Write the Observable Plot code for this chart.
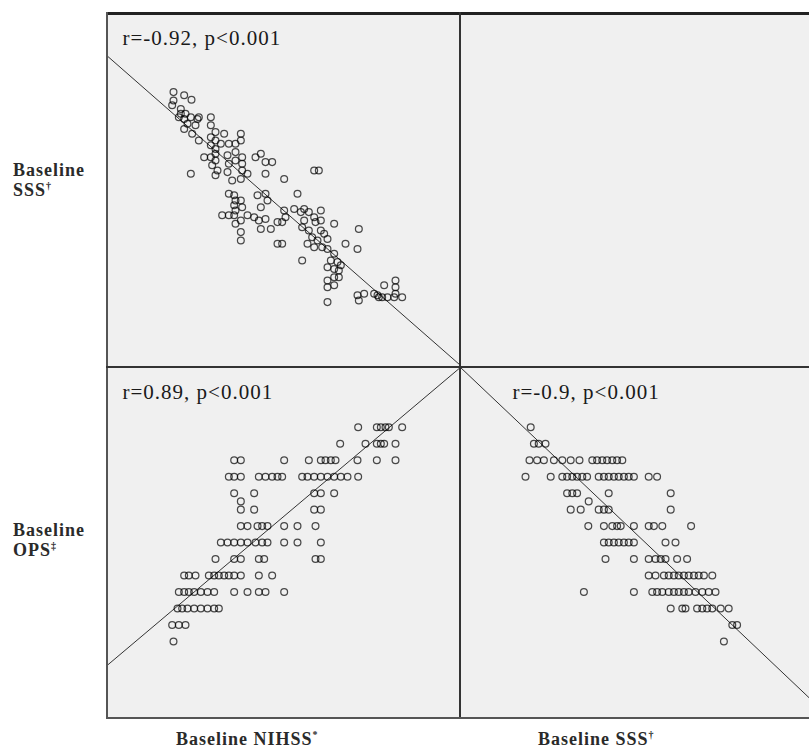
<!DOCTYPE html>
<html><head><meta charset="utf-8">
<script src="https://cdn.jsdelivr.net/npm/d3@7"></script>
<script src="https://cdn.jsdelivr.net/npm/@observablehq/plot@0.6"></script>
<style>
html,body{margin:0;padding:0;background:#fff;}
body{width:809px;height:749px;overflow:hidden;position:relative;font-family:"Liberation Serif","Times New Roman",serif;}
.panel{position:absolute;background:#f0f0f0;}
.panel svg{display:block;}
.panel svg text{letter-spacing:1px;}
.rule{position:absolute;background:#333;}
#labels{position:absolute;left:0;top:0;pointer-events:none;}
#labels text{font-family:"Liberation Serif",serif;font-size:18px;font-weight:bold;letter-spacing:1px;fill:#2a2a2a;}
</style></head><body>
<script>
// ---- scales (hidden axes) ----
const nihssDomain = [-6.7, 46.25];
const sssDomain = [-11.75, 76.75];
const opsDomain = [-0.27, 8.25];

// ---- top-left: Baseline NIHSS (x) vs Baseline SSS (y) ----
const nihssSss = [
  [3.2,57.1],[4.8,56.3],[5.9,55.2],[3.2,55.0],[3.0,53.8],[4.3,52.9],[5.0,51.7],[4.3,51.7],[4.0,50.8],[4.8,50.4],
  [5.8,50.8],[7.0,50.8],[6.8,50.4],[5.3,49.2],[6.5,48.8],[4.8,47.9],[6.0,46.7],[7.0,45.0],[8.8,50.8],[8.8,48.8],
  [9.5,47.1],[8.8,45.8],[9.5,45.0],[8.8,43.8],[9.5,42.9],[10.3,44.2],[9.5,41.7],[8.8,40.8],[7.8,40.8],[9.5,40.0],
  [9.0,38.8],[9.8,37.5],[9.5,36.3],[5.8,36.7],[10.8,46.7],[11.5,44.2],[11.3,41.3],[11.5,39.2],[11.3,37.1],[12.0,35.0],
  [12.5,44.2],[13.3,46.7],[13.3,45.0],[12.5,42.1],[13.5,40.8],[12.5,40.0],[13.5,39.2],[13.5,37.5],[13.3,35.4],[14.3,36.7],
  [15.5,40.8],[16.3,41.7],[17.0,39.6],[18.0,39.6],[17.0,36.7],[19.8,35.4],[24.3,37.5],[25.0,37.5],
  [11.5,31.7],[12.3,31.3],[12.5,30.0],[12.3,28.8],[12.5,27.5],[12.3,26.3],[11.5,26.3],[10.5,26.3],[13.3,30.0],[13.5,28.3],
  [14.3,26.3],[13.3,25.0],[12.5,24.2],[13.3,22.1],[13.3,20.0],[15.8,31.3],[17.0,31.7],[17.3,30.0],[16.3,28.3],[15.3,25.8],
  [16.0,25.0],[17.0,25.4],[17.8,22.9],[16.3,22.9],[18.8,24.6],[19.5,24.6],[19.8,27.5],[20.0,25.8],[18.8,19.2],[19.5,19.2],
  [21.8,31.7],[21.3,27.9],[22.3,27.1],[22.8,27.9],[23.5,27.1],[24.3,25.8],[25.3,27.5],[25.3,25.0],[24.5,24.6],[22.8,25.0],
  [22.5,23.3],[23.5,22.5],[24.0,20.8],[25.3,22.5],[24.8,20.0],[25.8,21.7],[26.3,20.4],[27.3,24.2],[23.3,19.2],[24.3,18.3],
  [25.5,18.3],[26.3,17.9],[27.3,16.7],[26.8,15.0],[27.8,14.6],[28.3,13.8],[26.3,13.3],[27.3,12.9],[28.0,12.5],[26.3,10.0],
  [27.3,10.8],[28.0,10.8],[26.3,8.3],[27.3,8.8],[22.5,15.0],[26.3,4.6],[29.0,19.2],[30.8,17.9],[31.0,22.9],
  [30.8,6.3],[31.0,5.0],[31.8,6.7],[33.3,6.7],[33.8,6.3],[34.0,5.8],[34.8,8.8],[34.5,5.8],[35.3,5.8],[36.5,10.0],
  [36.5,8.3],[36.5,6.7],[36.3,5.8],[37.5,5.8]
];

// ---- OPS levels (rows) shared by the two bottom panels ----
const opsLevels = [6.8, 6.4, 6.0, 5.6, 5.2, 5.0, 4.8, 4.4, 4.0, 3.6, 3.2, 2.8, 2.4, 2.0, 1.6];

// bottom-left: Baseline NIHSS values at each OPS level
const nihssAtOps = [
  [30.9,33.7,34.3,35.0,35.5,37.5],
  [28.2,32.0,33.7,34.3,34.8,36.5],
  [12.3,13.3,19.8,23.5,25.3,26.0,26.8,27.5,30.8,33.7,36.5],
  [11.5,12.3,13.3,16.0,17.0,18.0,18.8,19.5,22.5,23.3,24.3,25.3,26.3,27.3,28.3,29.3,30.9],
  [12.3,15.3,24.3,25.3,27.3],
  [13.3],
  [13.3,15.3,24.3,25.3],
  [13.3,14.3,15.8,16.5,17.3,19.8,21.8,24.5],
  [10.3,11.3,12.3,13.3,14.3,15.5,16.5,17.3,19.8,21.8,25.3],
  [9.5,12.3,13.3,16.0,16.8,24.5,25.3],
  [4.8,5.5,6.5,8.5,9.3,10.0,10.8,11.5,12.3,13.3,16.0,18.0],
  [4.0,4.8,5.5,6.3,7.3,8.3,9.3,12.3,14.3,16.0,17.0,19.8],
  [3.8,4.5,5.3,6.3,7.3,8.3,9.3,10.0],
  [3.0,4.0,5.0],
  [3.2]
];

// bottom-right: Baseline SSS values at each OPS level
const sssAtOps = [
  [5.8],
  [6.6,7.8,9.5],
  [5.5,7.4,9.1,11.6,13.7,15.8,18.0,21.2,22.4,23.7,24.9,26.2,27.4,28.7],
  [4.5,10.8,13.7,14.9,16.2,17.4,18.7,19.9,22.8,24.1,25.3,26.6,27.8,29.1,30.3,31.6,35.3,37.4],
  [14.9,16.2,17.4,25.3,40.8],
  [20.3],
  [15.8,18.3,22.8,24.1,25.3,40.8],
  [20.2,24.1,26.2,27.4,28.3,31.6,35.3,36.6,38.7,45.9],
  [24.1,25.3,26.6,27.8,29.1,30.3,31.6,39.5,42.0],
  [24.5,31.6,35.3,37.0,38.3,39.5,42.4,44.9],
  [35.3,37.0,39.1,40.3,41.6,42.8,44.1,45.3,46.6,47.8,49.1,51.2],
  [19.1,31.6,36.2,37.4,38.7,40.3,41.6,42.8,44.1,45.3,47.0,48.7,50.3,52.0],
  [40.8,43.7,44.5,47.4,48.7,49.9,51.2,53.3,55.3],
  [56.2,57.4],
  [54.1]
];

// fitted lines (intercept, slope)
const fitNihssSss = [56.3, -1.46];
const fitNihssOps = [1.94, 0.1365];
const fitSssOps = [7.17, -0.092];

// correlation annotations
const corrLabels = ["r=-0.92, p<0.001", "r=0.89, p<0.001", "r=-0.9, p<0.001"];
// axis labels
const rowLabels = [["Baseline", "SSS", "\u2020"], ["Baseline", "OPS", "\u2021"]];
const colLabels = [["Baseline NIHSS", "*"], ["Baseline SSS", "\u2020"]];

const toPairs = (levels, rows) => rows.flatMap((vals, i) => vals.map(v => [v, levels[i]]));

function panel({w, h, xDomain, yDomain, pts, fit, label, labelDx}) {
  const fitPts = xDomain.map(x => ({x, y: fit[0] + fit[1] * x}));
  return Plot.plot({
    width: w, height: h, margin: 0,
    x: {domain: xDomain, axis: null},
    y: {domain: yDomain, axis: null},
    style: {background: "transparent", fontFamily: "Liberation Serif, serif"},
    marks: [
      Plot.line(fitPts, {x: "x", y: "y", stroke: "#333", strokeWidth: 1, clip: true}),
      Plot.dot(pts, {x: d => d[0], y: d => d[1], r: 3.4, fill: "none", stroke: "#000", strokeOpacity: 0.7, strokeWidth: 1.25}),
      Plot.text([label], {text: d => d, frameAnchor: "top-left", dx: labelDx, dy: 17, textAnchor: "start", lineAnchor: "top", fontSize: 21, fill: "#1a1a1a"})
    ]
  });
}

function place(el, left, top, w, h) {
  const d = document.createElement("div");
  d.className = "panel";
  Object.assign(d.style, {left: left + "px", top: top + "px", width: w + "px", height: h + "px"});
  if (el) d.appendChild(el);
  document.body.appendChild(d);
}

place(panel({w: 353, h: 354, xDomain: nihssDomain, yDomain: sssDomain, pts: nihssSss, fit: fitNihssSss, label: corrLabels[0], labelDx: 15}), 107, 13, 353, 354);
place(null, 460, 13, 354, 354);
place(panel({w: 353, h: 351, xDomain: nihssDomain, yDomain: opsDomain, pts: toPairs(opsLevels, nihssAtOps), fit: fitNihssOps, label: corrLabels[1], labelDx: 15}), 107, 367, 353, 351);
place(panel({w: 354, h: 351, xDomain: sssDomain, yDomain: opsDomain, pts: toPairs(opsLevels, sssAtOps), fit: fitSssOps, label: corrLabels[2], labelDx: 52}), 460, 367, 354, 351);

// frame rules
function rule(l, t, w, h, c) {
  const d = document.createElement("div");
  d.className = "rule";
  Object.assign(d.style, {left: l + "px", top: t + "px", width: w + "px", height: h + "px", background: c || "#333"});
  document.body.appendChild(d);
}
rule(106, 12, 703, 3, "#222");
rule(106, 12, 2, 707, "#555");
rule(459, 12, 2, 707, "#333");
rule(106, 366, 703, 2, "#333");
rule(106, 717, 703, 2, "#555");

// text labels
const ns = "http://www.w3.org/2000/svg";
const svg = document.createElementNS(ns, "svg");
svg.setAttribute("id", "labels");
svg.setAttribute("width", 809); svg.setAttribute("height", 749);
function txt(x, y, parts) {
  const t = document.createElementNS(ns, "text");
  t.setAttribute("x", x); t.setAttribute("y", y);
  parts.forEach(([s, sup]) => {
    const sp = document.createElementNS(ns, "tspan");
    sp.textContent = s;
    if (sup) { sp.setAttribute("font-size", "10px"); sp.setAttribute("dy", "-7"); }
    t.appendChild(sp);
  });
  svg.appendChild(t);
}
txt(13, 176, [[rowLabels[0][0]]]);
txt(13, 196, [[rowLabels[0][1]], [rowLabels[0][2], true]]);
txt(13, 536, [[rowLabels[1][0]]]);
txt(13, 556, [[rowLabels[1][1]], [rowLabels[1][2], true]]);
txt(176, 745, [[colLabels[0][0]], [colLabels[0][1], true]]);
txt(538, 745, [[colLabels[1][0]], [colLabels[1][1], true]]);
document.body.appendChild(svg);
</script>
</body></html>
